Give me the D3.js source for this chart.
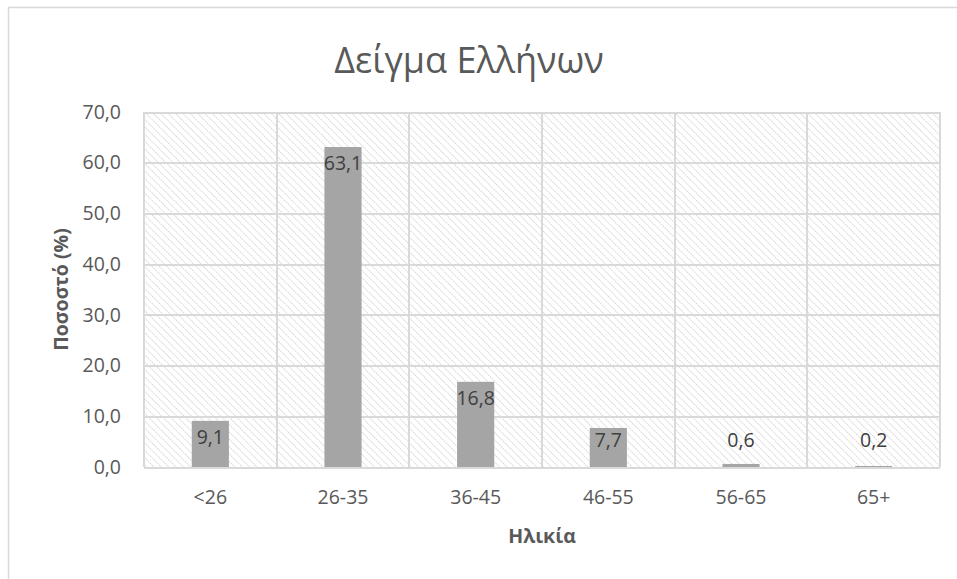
<!DOCTYPE html>
<html>
<head>
<meta charset="utf-8">
<script src="https://cdn.jsdelivr.net/npm/d3@7"></script>
<style>
  html, body { margin: 0; padding: 0; background: #fff; }
  svg { display: block; font-family: "Open Sans", "Noto Sans", sans-serif; }
</style>
</head>
<body>
<svg id="chart" width="957" height="579"></svg>
<script>
const categories = ['<26', '26-35', '36-45', '46-55', '56-65', '65+'];
const values = [9.1, 63.1, 16.8, 7.7, 0.6, 0.2];
const yTicks = [0, 10, 20, 30, 40, 50, 60, 70];

const chartTitle = 'Δείγμα Ελλήνων';
const xTitle = 'Ηλικία';
const yTitle = 'Ποσοστό (%)';

const svg = d3.select('#chart');
const margin = { top: 112, right: 17, bottom: 112, left: 144 };
const width = 957 - margin.left - margin.right;
const height = 579 - margin.top - margin.bottom;
const fmt = d => d3.format('.1f')(d).replace('.', ',');
const textSize = '19.5px';

// outer chart frame (only top and left edges are in view)
svg.append('path')
  .attr('d', 'M8.5,579V7.5H957')
  .attr('fill', 'none')
  .attr('stroke', '#d9d9d9')
  .attr('stroke-width', 1.5);

/*
Excel style hatched plot background.
*/
const defs = svg.append('defs');
const pat = defs.append('pattern')
  .attr('id', 'hatch')
  .attr('patternUnits', 'userSpaceOnUse')
  .attr('width', 5.2)
  .attr('height', 5.2)
  .attr('patternTransform', 'rotate(-45)');
pat.append('line')
  .attr('x1', 0).attr('y1', 0)
  .attr('x2', 0).attr('y2', 5.2)
  .attr('stroke', '#d4d4d4')
  .attr('stroke-width', 1.6)
  .attr('stroke-dasharray', '2,0.6');

const g = svg.append('g').attr('transform', `translate(${margin.left},${margin.top})`);

const x = d3.scaleBand().domain(categories).range([0, width]).paddingInner(0.72).paddingOuter(0.36);
const xCell = d3.scaleBand().domain(categories).range([0, width]);
const y = d3.scaleLinear().domain([0, 70]).range([height, 0]);

g.append('rect')
  .attr('width', width)
  .attr('height', height)
  .attr('fill', 'url(#hatch)');

// grid
const gridY = g.append('g')
  .call(d3.axisLeft(y).tickValues(yTicks).tickSize(-width).tickFormat(''));
gridY.select('.domain').remove();
gridY.selectAll('.tick line')
  .attr('stroke', '#d9d9d9')
  .attr('stroke-width', 2)
  .attr('shape-rendering', 'crispEdges');

const gridX = g.append('g');
gridX.selectAll('line')
  .data(categories.concat(['end']))
  .join('line')
  .attr('x1', (d, i) => i < categories.length ? xCell(d) : width)
  .attr('x2', (d, i) => i < categories.length ? xCell(d) : width)
  .attr('y1', 0)
  .attr('y2', height)
  .attr('stroke', '#d9d9d9')
  .attr('stroke-width', 2)
  .attr('shape-rendering', 'crispEdges');

// bars
g.selectAll('.bar')
  .data(values)
  .join('rect')
  .attr('class', 'bar')
  .attr('x', (d, i) => x(categories[i]))
  .attr('y', d => y(d))
  .attr('width', x.bandwidth())
  .attr('height', d => height - y(d))
  .attr('fill', '#a5a5a5');

// data labels
g.selectAll('.label')
  .data(values)
  .join('text')
  .attr('class', 'label')
  .attr('x', (d, i) => x(categories[i]) + x.bandwidth() / 2)
  .attr('y', d => Math.min(y(d) + 16, y(5.2)))
  .attr('dy', '0.35em')
  .attr('text-anchor', 'middle')
  .attr('fill', '#404040')
  .style('font-size', textSize)
  .text(fmt);

// axes
const axisY = g.append('g')
  .call(d3.axisLeft(y).tickValues(yTicks).tickSize(0).tickPadding(23).tickFormat(fmt));
axisY.select('.domain').remove();
axisY.selectAll('text')
  .attr('fill', '#595959')
  .style('font-size', textSize)
  .style('font-family', '"Open Sans", sans-serif');

const axisX = g.append('g')
  .attr('transform', `translate(0,${height})`)
  .call(d3.axisBottom(xCell).tickSize(0).tickPadding(23));
axisX.select('.domain').remove();
axisX.selectAll('text')
  .attr('fill', '#595959')
  .style('font-size', textSize)
  .style('font-family', '"Open Sans", sans-serif');

// titles
svg.append('text')
  .attr('x', 469)
  .attr('y', 60)
  .attr('dy', '0.35em')
  .attr('text-anchor', 'middle')
  .attr('fill', '#595959')
  .style('font-size', '36px')
  .text(chartTitle);

svg.append('text')
  .attr('x', margin.left + width / 2)
  .attr('y', 536)
  .attr('dy', '0.35em')
  .attr('text-anchor', 'middle')
  .attr('fill', '#595959')
  .style('font-size', textSize)
  .style('font-weight', 'bold')
  .text(xTitle);

svg.append('text')
  .attr('transform', `translate(61,${margin.top + height / 2}) rotate(-90)`)
  .attr('dy', '0.35em')
  .attr('text-anchor', 'middle')
  .attr('fill', '#595959')
  .style('font-size', textSize)
  .style('font-weight', 'bold')
  .text(yTitle);
</script>
</body>
</html>
